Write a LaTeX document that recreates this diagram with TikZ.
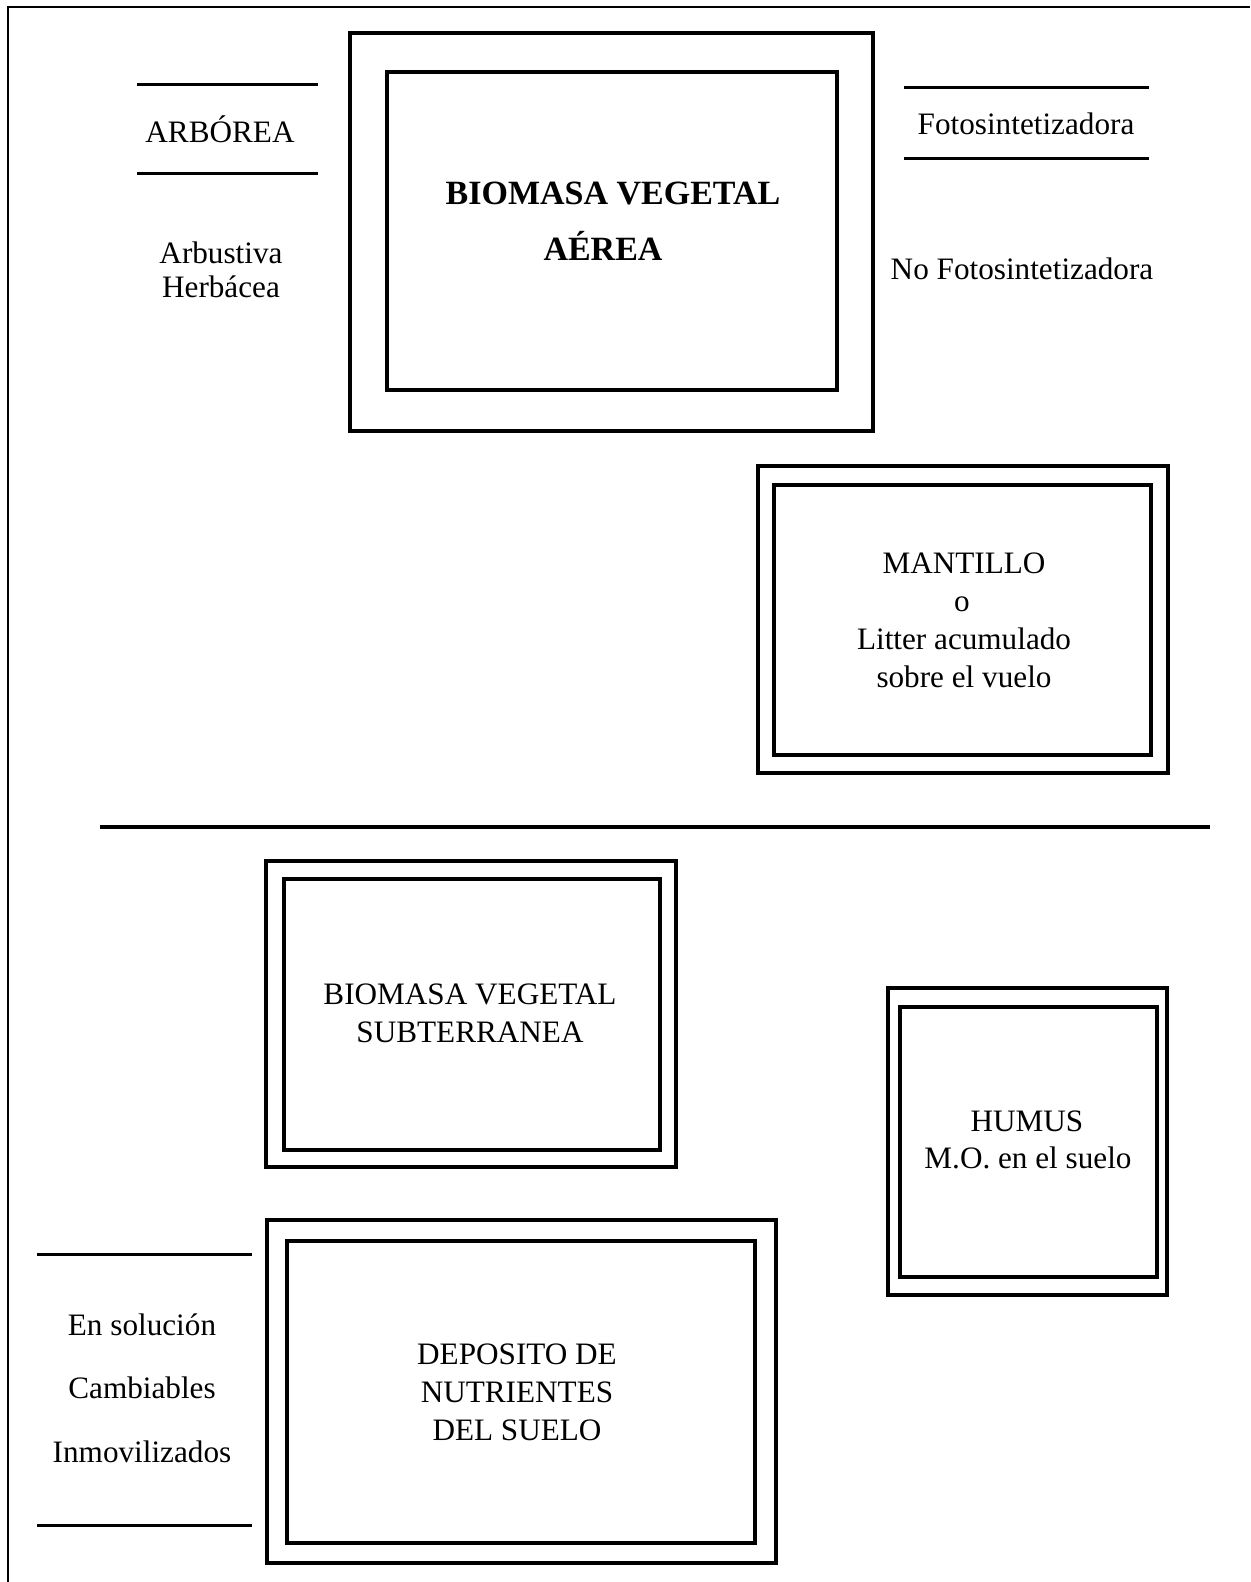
\documentclass[tikz,border=0pt]{standalone}
\usepackage{fontspec}
\setmainfont{Liberation Serif}
\begin{document}
\begin{tikzpicture}[x=0.5pt,y=-0.5pt,
  frameline/.style={line width=1pt},
  boxline/.style={line width=1.7pt},
  rulebar/.style={line width=1.5pt},
  sepbar/.style={line width=2.4pt},
  lbl/.style={anchor=base,inner sep=0pt,font=\fontsize{15.6}{18}\selectfont},
  blbl/.style={anchor=base,inner sep=0pt,font=\fontsize{17}{20}\selectfont\bfseries}]
\useasboundingbox (0,0) rectangle (1250,1582);
% frame (top and left)
\draw[frameline] (8,1582) -- (8,7) -- (1250,7);

% Biomasa vegetal aerea
\draw[boxline] (350,33) rectangle (873,431);
\draw[boxline] (387,72) rectangle (837,390);
\node[blbl] (bva1) at (613,205) {BIOMASA VEGETAL};
\node[blbl] (bva2) at (603,261) {AÉREA};

% Arborea group
\coordinate (ar1a) at (137,85);  \coordinate (ar1b) at (318,85);
\coordinate (ar2a) at (137,174); \coordinate (ar2b) at (318,174);
\draw[rulebar] (ar1a) -- (ar1b);
\draw[rulebar] (ar2a) -- (ar2b);
\node[lbl] (arb) at (220,143) {ARBÓREA};
\node[lbl] (arbu) at (221,264) {Arbustiva};
\node[lbl] (herb) at (221,298) {Herbácea};

% Fotosintetizadora group
\coordinate (fo1a) at (904,88);  \coordinate (fo1b) at (1149,88);
\coordinate (fo2a) at (904,159); \coordinate (fo2b) at (1149,159);
\draw[rulebar] (fo1a) -- (fo1b);
\draw[rulebar] (fo2a) -- (fo2b);
\node[lbl] (foto) at (1026,135) {Fotosintetizadora};
\node[lbl] (nofoto) at (1022,280) {No Fotosintetizadora};

% Mantillo
\draw[boxline] (758,466) rectangle (1168,773);
\draw[boxline] (774,485) rectangle (1151,755);
\node[lbl] (man1) at (964,573) {MANTILLO};
\node[lbl] (man2) at (962,611) {o};
\node[lbl] (man3) at (964,649) {Litter acumulado};
\node[lbl] (man4) at (964,687) {sobre el vuelo};

% separator
\coordinate (sepa) at (100,827); \coordinate (sepb) at (1210,827);
\draw[sepbar] (sepa) -- (sepb);

% Biomasa vegetal subterranea
\draw[boxline] (266,861) rectangle (676,1167);
\draw[boxline] (284,879) rectangle (660,1150);
\node[lbl] (bvs1) at (470,1004) {BIOMASA VEGETAL};
\node[lbl] (bvs2) at (470,1042) {SUBTERRANEA};

% Humus
\draw[boxline] (888,988) rectangle (1167,1295);
\draw[boxline] (900,1007) rectangle (1157,1277);
\node[lbl] (hum1) at (1027,1131) {HUMUS};
\node[lbl] (hum2) at (1028,1168) {M.O. en el suelo};

% Deposito de nutrientes
\draw[boxline] (267,1220) rectangle (776,1563);
\draw[boxline] (287,1241) rectangle (755,1543);
\node[lbl] (dep1) at (517,1364) {DEPOSITO DE};
\node[lbl] (dep2) at (517,1402) {NUTRIENTES};
\node[lbl] (dep3) at (517,1440) {DEL SUELO};

% left nutrient forms
\coordinate (nu1a) at (37,1254); \coordinate (nu1b) at (252,1254);
\coordinate (nu2a) at (37,1525); \coordinate (nu2b) at (252,1525);
\draw[rulebar] (nu1a) -- (nu1b);
\draw[rulebar] (nu2a) -- (nu2b);
\node[lbl] (sol) at (142,1335) {En solución};
\node[lbl] (cam) at (142,1398) {Cambiables};
\node[lbl] (inm) at (142,1462) {Inmovilizados};
\end{tikzpicture}
\end{document}
